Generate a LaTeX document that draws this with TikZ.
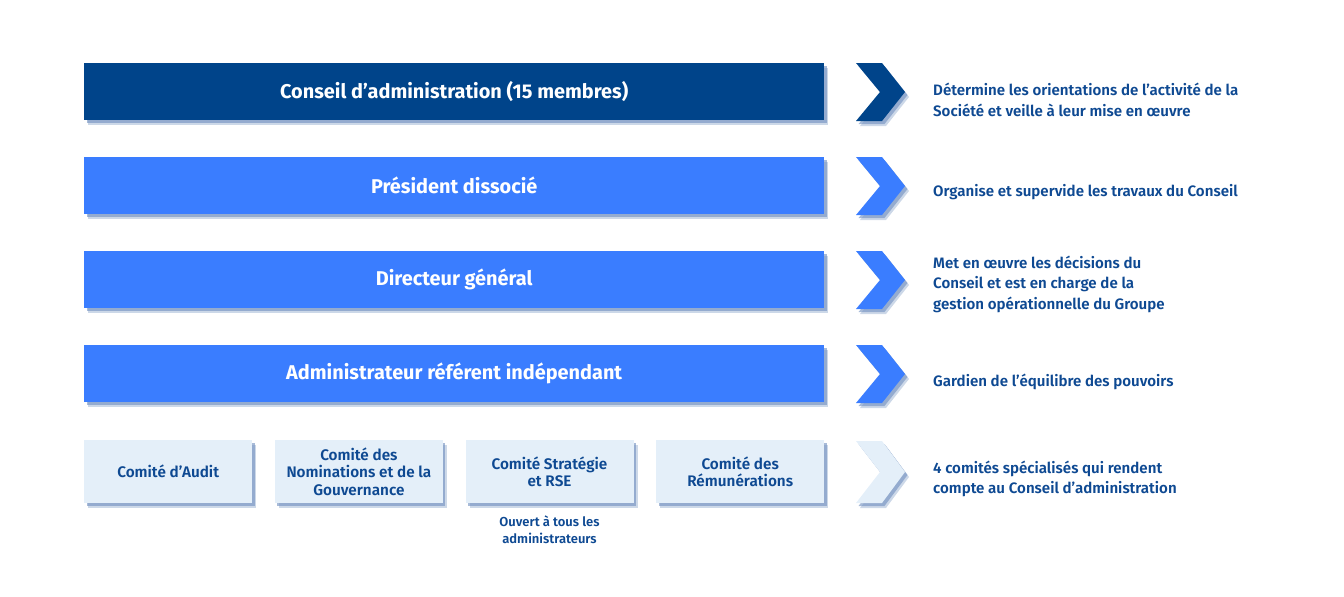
\documentclass[tikz,border=0pt]{standalone}
\usepackage{fontspec}
\setmainfont{Fira Sans}[BoldFont={Fira Sans Bold}]
\newfontfamily\semi{Fira Sans SemiBold}
\usetikzlibrary{positioning,shadows}
\definecolor{navy}{RGB}{0,68,138}
\definecolor{bright}{RGB}{58,125,255}
\definecolor{pale}{RGB}{228,239,249}
\definecolor{inkblue}{RGB}{14,73,146}
\definecolor{shade}{RGB}{110,142,190}

\begin{document}
\begin{tikzpicture}[x=1pt,y=-1pt]
    % Stili
    \tikzset{
        soft/.style={drop shadow={shadow xshift=4pt, shadow yshift=-5pt, fill=shade, opacity=0.35},
                     drop shadow={shadow xshift=2.5pt, shadow yshift=-3pt, fill=shade, opacity=0.6}},
        bar/.style={rectangle, fill=bright, text=white, minimum width=740pt, minimum height=57pt, inner sep=0pt, anchor=north west, font=\fontsize{19.9}{23}\selectfont\bfseries, soft},
        comite/.style={rectangle, fill=pale, text=inkblue, minimum width=168pt, minimum height=63pt, inner sep=0pt, anchor=north west, align=center, font=\fontsize{15.3}{17.5}\selectfont\semi, soft},
        role/.style={anchor=west, text=inkblue, align=left, inner sep=0pt, font=\fontsize{15.1}{20.5}\selectfont\semi},
        remark/.style={text=inkblue, align=center, inner sep=0pt, font=\fontsize{13}{17}\selectfont\semi}
    }

    % Cornice
    \useasboundingbox (0,0) rectangle (1344,597);

    % Organi principali
    \node[bar, fill=navy] (conseil) at (84,63) {Conseil d’administration (15 membres)};
    \node[bar] (president) at (84,157) {Président dissocié};
    \node[bar] (directeur) at (84,251) {Directeur général};
    \node[bar] (referent) at (84,345) {Administrateur référent indépendant};

    % Comitati
    \node[comite] (audit) at (84,440) {Comité d’Audit};
    \node[comite] (nomin) at (274.7,440) {Comité des\\Nominations et de la\\Gouvernance};
    \node[comite] (strat) at (465.3,440) {Comité Stratégie\\et RSE};
    \node[comite] (remun) at (656,440) {Comité des\\Rémunérations};
    \node[remark, below=12pt of strat] (ouvert) {Ouvert à tous les\\administrateurs};

    % Frecce
    \foreach \t/\h/\col in {63/29/navy, 157/29/bright, 251/29/bright, 345/29/bright, 441/31/pale} {
        \fill[\col, soft] (856,\t) -- ++(26,0) -- ++(23,\h) -- ++(-23,\h) -- ++(-26,0) -- ++(24,-\h) -- cycle;
    }

    % Ruoli
    \node[role] (r1) at (933,100) {Détermine les orientations de l’activité de la\\Société et veille à leur mise en œuvre};
    \node[role] (r2) at (933,192) {Organise et supervide les travaux du Conseil};
    \node[role] (r3) at (933,284) {Met en œuvre les décisions du\\Conseil et est en charge de la\\gestion opérationnelle du Groupe};
    \node[role] (r4) at (933,382) {Gardien de l’équilibre des pouvoirs};
    \node[role] (r5) at (933,479) {4 comités spécialisés qui rendent\\compte au Conseil d’administration};

\end{tikzpicture}
\end{document}
